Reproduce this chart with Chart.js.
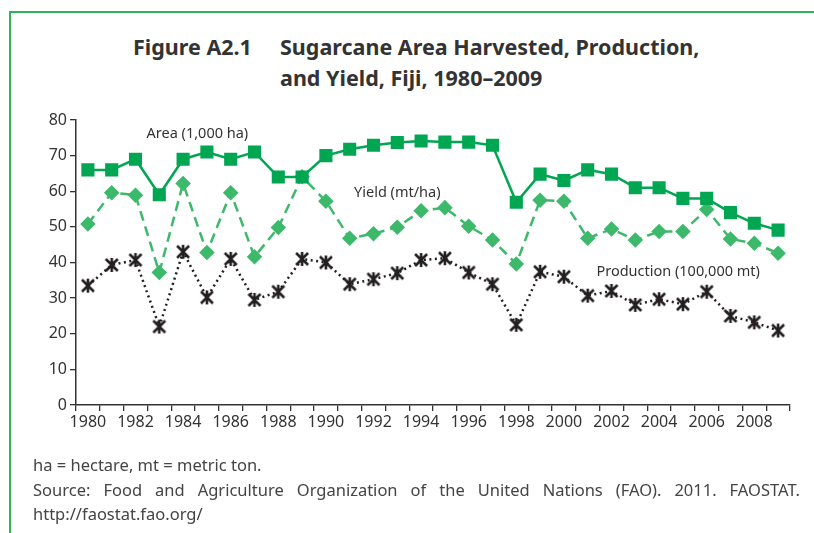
<!DOCTYPE html>
<html>
<head>
<meta charset="utf-8">
<script src="https://cdn.jsdelivr.net/npm/chart.js@4.4.1/dist/chart.umd.min.js"></script>
<style>
  html, body { margin: 0; padding: 0; background: #fff; }
  #page { position: relative; width: 814px; height: 533px; overflow: hidden; font-family: "Noto Sans", sans-serif; color: #333; }
  #frameTop { position: absolute; left: 9px; top: 11px; width: 805px; height: 2px; background: #2db55d; }
  #frameLeft { position: absolute; left: 9px; top: 11px; width: 2px; height: 522px; background: #2db55d; }
  .title { position: absolute; font-weight: bold; font-size: 21.5px; color: #333; white-space: nowrap; line-height: 1; }
  #chartBox { position: absolute; left: 0; top: 0; width: 814px; height: 533px; }
  .note { position: absolute; left: 33px; width: 767px; font-size: 16.5px; color: #444; white-space: nowrap; line-height: 1; }
  #src { text-align: justify; text-align-last: justify; white-space: normal; }
</style>
</head>
<body>
<div id="page">
  <div id="frameTop"></div>
  <div id="frameLeft"></div>
  <div class="title" style="left:133px; top:36px;">Figure A2.1</div>
  <div class="title" style="left:280px; top:36px;">Sugarcane Area Harvested, Production,</div>
  <div class="title" style="left:280px; top:67px;">and Yield, Fiji, 1980–2009</div>
  <div id="chartBox"><canvas id="chart"></canvas></div>
  <div class="note" style="top:457px;">ha = hectare, mt = metric ton.</div>
  <div class="note" id="src" style="top:482px;">Source: Food and Agriculture Organization of the United Nations (FAO). 2011. FAOSTAT.</div>
  <div class="note" style="top:506px;">http://faostat.fao.org/</div>
</div>
<script>
// data
const years = [1980,1981,1982,1983,1984,1985,1986,1987,1988,1989,
               1990,1991,1992,1993,1994,1995,1996,1997,1998,1999,
               2000,2001,2002,2003,2004,2005,2006,2007,2008,2009];
const areaHarvested = [66,66,69,59,69,71,69,71,64,64,
                       70,71.8,72.9,73.7,74.1,73.8,73.8,72.9,56.9,64.8,
                       63,66,64.8,61,61,58,58,54,51,49.1];
const yieldPerHa = [50.8,59.6,58.9,37.2,62.2,42.8,59.6,41.6,49.8,64.1,
                    57.2,46.8,48.1,49.9,54.5,55.4,50.2,46.3,39.6,57.5,
                    57.2,46.8,49.4,46.3,48.7,48.7,54.9,46.6,45.4,42.6];
const production = [33.5,39.3,40.7,22,43,30.2,41,29.5,31.8,41,
                    40,33.9,35.3,37,40.7,41.2,37.2,33.9,22.5,37.4,
                    36,30.7,32,28.1,29.7,28.3,31.8,25,23.2,20.9];
const yTicks = [0,10,20,30,40,50,60,70,80];

const areaColor = '#00a651';
const yieldColor = '#3cb96b';
const prodColor = '#231f20';

// asterisk marker (x with a vertical stroke)
function makeAsterisk(size, color) {
    const c = document.createElement('canvas');
    c.width = size; c.height = size;
    const g = c.getContext('2d');
    const m = size / 2, r = size / 2 - 2;
    g.strokeStyle = color;
    g.lineWidth = 2.6;
    g.lineCap = 'butt';
    g.beginPath();
    g.moveTo(m - r, m - r); g.lineTo(m + r, m + r);
    g.moveTo(m + r, m - r); g.lineTo(m - r, m + r);
    g.moveTo(m, m - r - 1); g.lineTo(m, m + r + 1);
    g.stroke();
    return c;
}
const asterisk = makeAsterisk(16, prodColor);

// series labels drawn next to the lines, positioned in data units
const seriesLabels = [
    { text: 'Area (1,000 ha)', x: 4.6, y: 76 },
    { text: 'Yield (mt/ha)', x: 13.0, y: 59.5 },
    { text: 'Production (100,000 mt)', x: 24.8, y: 37.3 }
];
const labelPlugin = {
    id: 'seriesLabels',
    afterDatasetsDraw(chart) {
        const ctx = chart.ctx;
        const xs = chart.scales.x, ys = chart.scales.y;
        ctx.save();
        ctx.font = '14.5px "Noto Sans"';
        ctx.fillStyle = '#333';
        ctx.textAlign = 'center';
        ctx.textBaseline = 'middle';
        seriesLabels.forEach(l => {
            ctx.fillText(l.text, xs.getPixelForValue(l.x), ys.getPixelForValue(l.y));
        });
        ctx.restore();
    }
};

new Chart(document.getElementById('chart'), {
    type: 'line',
    data: {
        labels: years.map(String),
        datasets: [
            {
                label: 'Area (1,000 ha)',
                data: areaHarvested,
                borderColor: areaColor,
                backgroundColor: areaColor,
                borderWidth: 2.5,
                pointStyle: 'rect',
                pointRadius: 7.5,
                tension: 0
            },
            {
                label: 'Yield (mt/ha)',
                data: yieldPerHa,
                borderColor: yieldColor,
                backgroundColor: yieldColor,
                borderWidth: 2.5,
                borderDash: [10, 6],
                pointStyle: 'rectRot',
                pointRadius: 6,
                tension: 0
            },
            {
                label: 'Production (100,000 mt)',
                data: production,
                borderColor: prodColor,
                backgroundColor: prodColor,
                borderWidth: 2.5,
                borderDash: [2, 3.5],
                pointStyle: asterisk,
                tension: 0
            }
        ]
    },
    options: {
        responsive: true,
        maintainAspectRatio: false,
        animation: false,
        layout: { padding: { left: 26, right: 24, top: 120, bottom: 98 } },
        plugins: {
            legend: { display: false },
            tooltip: { enabled: false }
        },
        scales: {
            x: {
                offset: true,
                grid: { drawOnChartArea: false, drawTicks: true, offset: true, tickLength: 6, color: '#333', lineWidth: 1.3 },
                border: { display: true, color: '#333', width: 1.5 },
                ticks: {
                    autoSkip: false,
                    maxRotation: 0,
                    color: '#333',
                    font: { family: 'Noto Sans', size: 16 },
                    padding: 2,
                    callback: function(v, i) { return years[i] % 2 === 0 ? String(years[i]) : ''; }
                },
                afterFit: s => { s.height = 30; }
            },
            y: {
                min: 0, max: 80,
                afterBuildTicks: s => { s.ticks = yTicks.map(v => ({ value: v })); },
                grid: { drawOnChartArea: false, drawTicks: true, tickLength: 6, color: '#333', lineWidth: 1.3 },
                border: { display: true, color: '#333', width: 1.5 },
                ticks: { color: '#333', font: { family: 'Noto Sans', size: 16 }, padding: 3 },
                afterFit: s => { s.width = 50; }
            }
        }
    },
    plugins: [labelPlugin]
});
</script>
</body>
</html>
